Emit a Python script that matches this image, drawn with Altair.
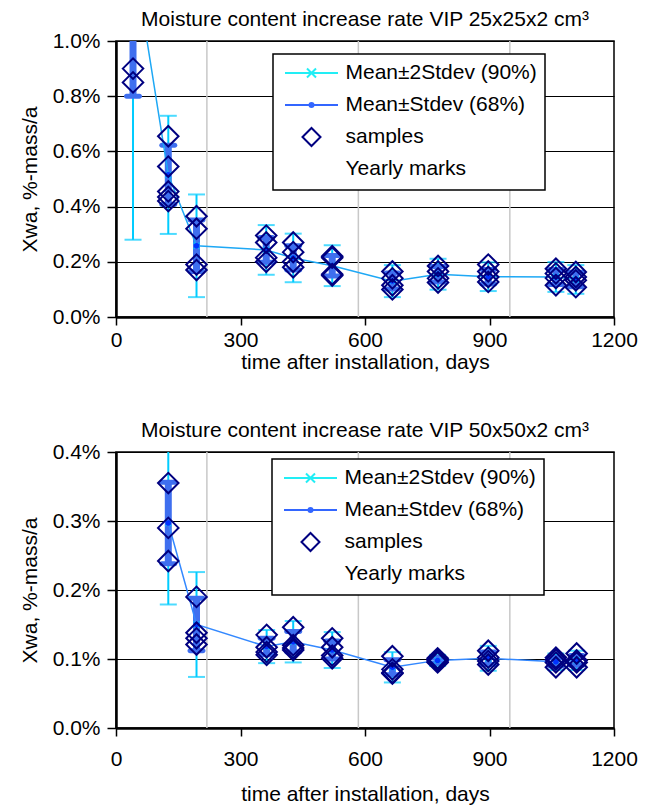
import altair as alt
import pandas as pd

# ---------------- data (values in % mass per year) ----------------
yearly_days = [219, 584, 949]

series_names = ["Mean±2Stdev (90%)", "Mean±Stdev (68%)", "samples", "Yearly marks"]

# Panel A: VIP 25x25x2 cm3
a_days = [41, 126, 194, 362, 427, 521, 666, 776, 897, 1060, 1108]
a_mean = [1.32, 0.515, 0.258, 0.243, 0.214, 0.186, 0.130, 0.155, 0.146, 0.145, 0.136]
a_sd = [0.52, 0.107, 0.093, 0.045, 0.044, 0.037, 0.029, 0.028, 0.026, 0.027, 0.026]
a_samples = [
    [0.90, 0.85],
    [0.655, 0.545, 0.455, 0.435, 0.42],
    [0.365, 0.32, 0.19, 0.17],
    [0.295, 0.27, 0.215, 0.20],
    [0.27, 0.235, 0.20, 0.18],
    [0.22, 0.215, 0.155, 0.15],
    [0.165, 0.14, 0.115, 0.10],
    [0.185, 0.165, 0.14, 0.125],
    [0.19, 0.165, 0.145, 0.127],
    [0.175, 0.158, 0.141, 0.115],
    [0.163, 0.145, 0.133, 0.108],
]

# Panel B: VIP 50x50x2 cm3
b_days = [126, 194, 363, 427, 521, 666, 775, 897, 1060, 1110]
b_mean = [0.297, 0.150, 0.118, 0.125, 0.113, 0.088, 0.098, 0.101, 0.096, 0.098]
b_sd = [0.059, 0.038, 0.012, 0.015, 0.013, 0.011, 0.004, 0.009, 0.006, 0.007]
b_samples = [
    [0.355, 0.29, 0.242],
    [0.19, 0.138, 0.13, 0.121],
    [0.135, 0.117, 0.11, 0.106],
    [0.146, 0.12, 0.116, 0.113],
    [0.13, 0.117, 0.105, 0.101],
    [0.104, 0.085, 0.08, 0.079],
    [0.101, 0.099, 0.097, 0.095],
    [0.112, 0.102, 0.097, 0.092],
    [0.102, 0.099, 0.095, 0.088],
    [0.108, 0.098, 0.095, 0.088],
]

x_ticks = [0, 300, 600, 900, 1200]

# ---------------- styling ----------------
FONT = "Liberation Sans"
FS = 21
CYAN = "#00CCFF"
CYAN_LEG = "#22EEF5"
BLUE = "#3F6FEF"
BLUE_LEG = "#3366FF"
DOT = "#0033FF"
NAVY = "#000080"
GRAY = "#C8C8C8"

LINE = "M-2.65,0H2.65"
PAD = "M0,-0.9L0,-0.9M0,0.9L0,0.9"   # zero-length segments to give equal symbol heights
leg_paths = [
    LINE + "M-0.45,-0.45L0.45,0.45M-0.45,0.45L0.45,-0.45" + PAD,
    LINE + "M-0.2,0A0.2,0.2,0,1,0,0.2,0A0.2,0.2,0,1,0,-0.2,0" + PAD,
    "M-0.9,0L0,-0.9L0.9,0L0,0.9Z",
    "M0,0L0,0" + PAD,
]
leg_colors = [CYAN_LEG, BLUE_LEG, NAVY, "white"]
XMARK = "M-1,-1L1,1M-1,1L1,-1"


def panel(title, days, means, sds, samples, ymax, ystep, lab_pad, tit_pad,
          leg_x, leg_y, line_color):
    stats = pd.DataFrame({"day": days, "mean": means, "sd": sds})
    stats["lo2"] = stats["mean"] - 2 * stats["sd"]
    stats["hi2"] = stats["mean"] + 2 * stats["sd"]
    stats["lo1"] = stats["mean"] - stats["sd"]
    stats["hi1"] = stats["mean"] + stats["sd"]
    samp = pd.DataFrame([{"day": d, "v": v} for d, vs in zip(days, samples) for v in vs])
    yearly = pd.DataFrame({"day": yearly_days})
    leg = pd.DataFrame({"series": series_names, "day": [None] * 4, "v": [None] * 4})

    n = int(round(ymax / ystep))
    yvals = [round(i * ystep, 3) for i in range(n + 1)]

    xs = alt.Scale(domain=[0, 1200], nice=False, zero=False)
    ys = alt.Scale(domain=[0, ymax], nice=False, zero=False)
    xaxis = alt.Axis(values=x_ticks, grid=False, title="time after installation, days",
                     format="d",
                     labelPadding=lab_pad, titlePadding=tit_pad, tickSize=8, tickWidth=1.5,
                     tickColor="black", domainColor="black", domainWidth=2.5,
                     labelFontSize=FS, titleFontSize=FS, titleFontWeight="normal",
                     labelFont=FONT, titleFont=FONT, labelColor="black", titleColor="black",
                     labelFlush=False)
    yaxis = alt.Axis(values=yvals, grid=True, gridColor="black", gridWidth=1.2,
                     labelExpr="format(datum.value, '.1f') + '%'",
                     title="Xwa, %-mass/a", labelPadding=7, titlePadding=12, tickSize=9,
                     tickWidth=1.5, tickColor="black", domainColor="black", domainWidth=2.5,
                     labelFontSize=FS, titleFontSize=FS, titleFontWeight="normal",
                     labelFont=FONT, titleFont=FONT, labelColor="black", titleColor="black")

    def X(f="day"):
        return alt.X(f"{f}:Q", scale=xs, axis=xaxis)

    def Y(f):
        return alt.Y(f"{f}:Q", scale=ys, axis=yaxis)

    base = alt.Chart(stats)
    years = alt.Chart(yearly).mark_rule(color=GRAY, strokeWidth=1.5).encode(x=X())
    rule2 = base.mark_rule(color=CYAN, strokeWidth=2, clip=True).encode(
        x=X(), y=Y("lo2"), y2="hi2:Q")
    cap2a = base.mark_tick(color=CYAN, size=17, thickness=2, orient="horizontal",
                           clip=True).encode(x=X(), y=Y("lo2"))
    cap2b = base.mark_tick(color=CYAN, size=17, thickness=2, orient="horizontal",
                           clip=True).encode(x=X(), y=Y("hi2"))
    rule1 = base.mark_rule(color=BLUE, strokeWidth=7, clip=True).encode(
        x=X(), y=Y("lo1"), y2="hi1:Q")
    cap1a = base.mark_tick(color=BLUE, size=18, thickness=5, cornerRadius=2.5, opacity=1,
                           orient="horizontal", clip=True).encode(x=X(), y=Y("lo1"))
    cap1b = base.mark_tick(color=BLUE, size=18, thickness=5, cornerRadius=2.5, opacity=1,
                           orient="horizontal", clip=True).encode(x=X(), y=Y("hi1"))
    mline = base.mark_line(color=line_color, strokeWidth=1.5, clip=True).encode(
        x=X(), y=Y("mean"))
    xmk = base.mark_point(shape=XMARK, size=40, color=CYAN, strokeWidth=1.5,
                          clip=True).encode(x=X(), y=Y("mean"))
    dots = base.mark_circle(size=30, color=DOT, opacity=1, clip=True).encode(
        x=X(), y=Y("mean"))
    pts = alt.Chart(samp).mark_point(shape="diamond", size=420, filled=False, color=NAVY,
                                     strokeWidth=2, opacity=1, clip=True).encode(
        x=X(), y=Y("v"))

    legend = alt.Legend(orient="none", legendX=leg_x, legendY=leg_y, title=None,
                        padding=8, strokeColor="black", fillColor="white",
                        symbolSize=400, symbolStrokeWidth=2, symbolOpacity=1,
                        labelFontSize=FS, labelFont=FONT,
                        labelColor="black", rowPadding=6, symbolOffset=19.5,
                        labelOffset=23, labelLimit=400)
    legl = alt.Chart(leg).mark_point(size=400, filled=False, strokeWidth=2, opacity=1).encode(
        x=X(), y=Y("v"),
        color=alt.Color("series:N", scale=alt.Scale(domain=series_names, range=leg_colors),
                        legend=legend),
        shape=alt.Shape("series:N", scale=alt.Scale(domain=series_names, range=leg_paths),
                        legend=legend),
    )

    return alt.layer(years, rule2, cap2a, cap2b, rule1, cap1a, cap1b, mline, xmk, dots,
                     pts, legl).properties(
        width=498, height=276,
        title=alt.TitleParams(title, fontSize=FS, font=FONT, fontWeight="normal",
                              color="black", anchor="middle", offset=0),
    )


top = panel("Moisture content increase rate VIP 25x25x2 cm³", a_days, a_mean, a_sd,
            a_samples, 1.0, 0.2, 4, 1, 157, 13, "#1EA8F5")
bottom = panel("Moisture content increase rate VIP 50x50x2 cm³", b_days, b_mean, b_sd,
               b_samples, 0.4, 0.1, 12, 14, 156, 7, "#3388FF")

chart = alt.vconcat(top, bottom, spacing=46).resolve_scale(
    color="independent", shape="independent", x="independent", y="independent"
).properties(padding={"left": 10, "top": 0, "right": 5, "bottom": 0}).configure_view(
    stroke="black", strokeWidth=1.5
).configure_legend(strokeWidth=1.5)

chart.save("out.html", embed_options={"renderer": "svg", "actions": False})
